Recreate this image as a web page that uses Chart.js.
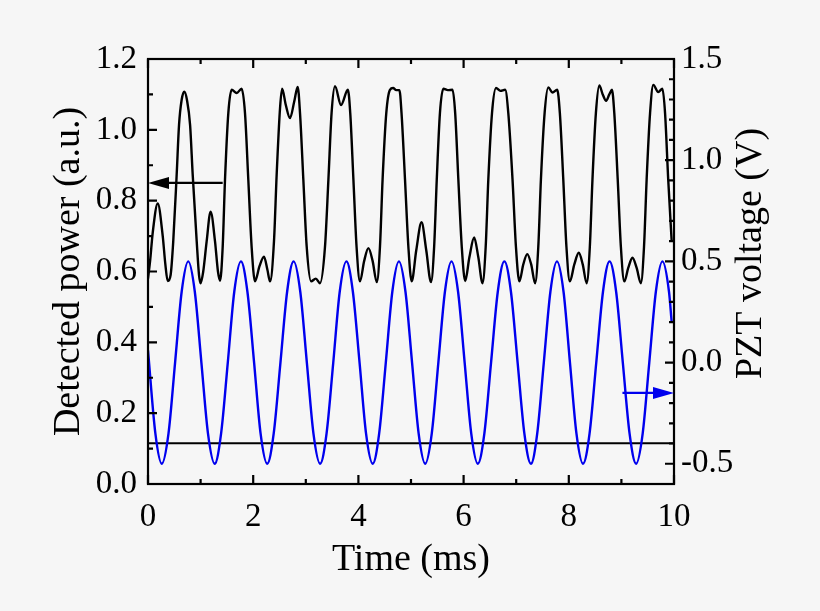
<!DOCTYPE html>
<html>
<head>
<meta charset="utf-8">
<script src="https://cdn.jsdelivr.net/npm/chart.js@4.4.1/dist/chart.umd.min.js"></script>
<style>
  html, body { margin: 0; padding: 0; background: #f6f6f6; }
  #wrap { width: 820px; height: 611px; }
</style>
</head>
<body>
<div id="wrap"><canvas id="chart" width="820" height="611"></canvas></div>
<script>
// detected power (left axis)
const timePower = [
  0.00, 0.04, 0.09, 0.185, 0.28, 0.33, 0.375, 0.43, 0.48, 0.545, 0.59, 0.64, 0.69, 0.74, 0.80, 0.85, 0.926, 0.97,
  1.00, 1.05, 1.115, 1.19, 1.274, 1.33, 1.37, 1.42, 1.464, 1.527, 1.59, 1.686, 1.78, 1.844, 1.907, 1.97,
  2.034, 2.12, 2.205, 2.27, 2.32, 2.395, 2.446, 2.51, 2.55, 2.62, 2.70, 2.78, 2.846, 2.89, 2.953, 3.017,
  3.10, 3.19, 3.27, 3.365, 3.43, 3.49, 3.555, 3.67, 3.80, 3.845, 3.905, 3.965,
  4.03, 4.11, 4.19, 4.27, 4.35, 4.41, 4.46, 4.53, 4.60, 4.66, 4.72, 4.78, 4.82, 4.886, 4.95,
  5.013, 5.10, 5.20, 5.29, 5.38, 5.44, 5.49, 5.55, 5.615, 5.70, 5.79, 5.84, 5.90, 5.965,
  6.03, 6.11, 6.20, 6.28, 6.36, 6.42, 6.47, 6.54, 6.616, 6.70, 6.79, 6.85, 6.93, 6.995,
  7.06, 7.135, 7.21, 7.285, 7.36, 7.42, 7.47, 7.54, 7.61, 7.69, 7.78, 7.83, 7.895, 7.955,
  8.02, 8.105, 8.19, 8.265, 8.34, 8.40, 8.45, 8.515, 8.58, 8.645, 8.71, 8.77, 8.82, 8.865, 8.93, 8.99,
  9.055, 9.13, 9.21, 9.29, 9.37, 9.43, 9.48, 9.545, 9.607, 9.70, 9.78, 9.83, 9.89, 9.956
];
const power = [
  0.58, 0.63, 0.71, 0.792, 0.70, 0.62, 0.573, 0.59, 0.685, 0.873, 1.014, 1.085, 1.108, 1.085, 1.014, 0.873, 0.685, 0.59,
  0.567, 0.60, 0.685, 0.769, 0.685, 0.60, 0.574, 0.67, 0.859, 1.047, 1.113, 1.104, 1.116, 1.047, 0.859, 0.67,
  0.572, 0.615, 0.642, 0.605, 0.572, 0.685, 0.873, 1.061, 1.116, 1.07, 1.033, 1.08, 1.121, 1.047, 0.86, 0.67,
  0.572, 0.58, 0.567, 0.67, 0.86, 1.047, 1.123, 1.07, 1.113, 1.047, 0.86, 0.67,
  0.572, 0.63, 0.666, 0.63, 0.570, 0.67, 0.86, 1.047, 1.113, 1.118, 1.112, 1.112, 1.047, 0.86, 0.67,
  0.572, 0.66, 0.739, 0.66, 0.570, 0.67, 0.86, 1.047, 1.116, 1.112, 1.113, 1.047, 0.86, 0.67,
  0.573, 0.64, 0.696, 0.64, 0.567, 0.67, 0.86, 1.047, 1.118, 1.11, 1.113, 1.047, 0.86, 0.67,
  0.572, 0.62, 0.649, 0.62, 0.567, 0.67, 0.86, 1.047, 1.12, 1.105, 1.113, 1.047, 0.86, 0.67,
  0.572, 0.62, 0.653, 0.62, 0.567, 0.67, 0.86, 1.047, 1.125, 1.10, 1.082, 1.10, 1.113, 1.047, 0.86, 0.67,
  0.572, 0.61, 0.639, 0.61, 0.567, 0.67, 0.86, 1.047, 1.127, 1.107, 1.116, 1.047, 0.86, 0.685
];

// PZT voltage (right axis)
const timePzt = [
  0, 0.14, 0.262, 0.39, 0.515, 0.64, 0.765, 0.89, 1.015, 1.14,
  1.268, 1.39, 1.517, 1.64, 1.767, 1.89, 2.017, 2.14,
  2.266, 2.39, 2.518, 2.645, 2.769, 2.895, 3.02, 3.145,
  3.272, 3.395, 3.522, 3.645, 3.772, 3.895, 4.022, 4.145,
  4.272, 4.395, 4.521, 4.645, 4.771, 4.895, 5.02, 5.145,
  5.27, 5.395, 5.52, 5.645, 5.77, 5.895, 6.02, 6.145,
  6.27, 6.395, 6.522, 6.65, 6.775, 6.9, 7.027, 7.155,
  7.28, 7.4, 7.525, 7.65, 7.775, 7.9, 8.022, 8.145,
  8.27, 8.395, 8.522, 8.65, 8.775, 8.9, 9.027, 9.155,
  9.28, 9.405, 9.53, 9.655, 9.78, 9.905, 9.956
];
const pzt = [
  0.06, -0.35, -0.5, -0.35, 0, 0.35, 0.5, 0.35, 0, -0.35,
  -0.5, -0.35, 0, 0.35, 0.5, 0.35, 0, -0.35,
  -0.5, -0.35, 0, 0.35, 0.5, 0.35, 0, -0.35,
  -0.5, -0.35, 0, 0.35, 0.5, 0.35, 0, -0.35,
  -0.5, -0.35, 0, 0.35, 0.5, 0.35, 0, -0.35,
  -0.5, -0.35, 0, 0.35, 0.5, 0.35, 0, -0.35,
  -0.5, -0.35, 0, 0.35, 0.5, 0.35, 0, -0.35,
  -0.5, -0.35, 0, 0.35, 0.5, 0.35, 0, -0.35,
  -0.5, -0.35, 0, 0.35, 0.5, 0.35, 0, -0.35,
  -0.5, -0.35, 0, 0.35, 0.5, 0.35, 0.2
];

// flat reference level
const levelTime = [0, 10];
const levelPower = [0.115, 0.115];

// arrows: [from, to] in time, and level on their own axis
const arrowPowerTime = [1.42, 0];
const arrowPowerLevel = 0.85;
const arrowPztTime = [9.02, 10];
const arrowPztLevel = -0.15;

// ticks
const timeTicks = [0, 2, 4, 6, 8, 10];
const timeMinor = [1, 3, 5, 7, 9];
const powerTicks = [0, 0.2, 0.4, 0.6, 0.8, 1.0, 1.2];
const powerMinor = [0.1, 0.3, 0.5, 0.7, 0.9, 1.1];
const pztTicks = [-0.5, 0, 0.5, 1.0, 1.5];
const pztMinor = [-0.4, -0.3, -0.2, -0.1, 0.1, 0.2, 0.3, 0.4, 0.6, 0.7, 0.8, 0.9, 1.1, 1.2, 1.3, 1.4];

const serif = "'Liberation Serif', 'DejaVu Serif', serif";

function pts(xs, ys) {
  return xs.map((x, i) => ({ x: x, y: ys[i] }));
}

function setTicks(values) {
  return (scale) => { scale.ticks = values.map((v) => ({ value: v })); };
}

function drawArrow(ctx, x1, x2, y, color) {
  const dir = x2 > x1 ? 1 : -1;
  const head = 21;
  ctx.save();
  ctx.strokeStyle = color;
  ctx.fillStyle = color;
  ctx.lineWidth = 2.2;
  ctx.beginPath();
  ctx.moveTo(x1, y);
  ctx.lineTo(x2 - dir * head * 0.6, y);
  ctx.stroke();
  ctx.beginPath();
  ctx.moveTo(x2, y);
  ctx.lineTo(x2 - dir * head, y - 6);
  ctx.lineTo(x2 - dir * head, y + 6);
  ctx.closePath();
  ctx.fill();
  ctx.restore();
}

const framePlugin = {
  id: "frame",
  beforeDraw(chart) {
    const { ctx, width, height } = chart;
    ctx.save();
    ctx.fillStyle = "#f6f6f6";
    ctx.fillRect(0, 0, width, height);
    ctx.restore();
  },
  afterDraw(chart) {
    const { ctx, chartArea: a, scales } = chart;
    ctx.save();
    ctx.strokeStyle = "#000";
    ctx.lineWidth = 2.2;
    ctx.strokeRect(a.left, a.top, a.right - a.left, a.bottom - a.top);

    const major = 9, minor = 5;
    ctx.beginPath();
    [[timeTicks, major], [timeMinor, minor]].forEach(([vals, len]) => {
      vals.forEach((v) => {
        const px = scales.x.getPixelForValue(v);
        ctx.moveTo(px, a.bottom); ctx.lineTo(px, a.bottom - len);
        ctx.moveTo(px, a.top); ctx.lineTo(px, a.top + len);
      });
    });
    [[powerTicks, major], [powerMinor, minor]].forEach(([vals, len]) => {
      vals.forEach((v) => {
        const py = scales.y.getPixelForValue(v);
        ctx.moveTo(a.left, py); ctx.lineTo(a.left + len, py);
      });
    });
    [[pztTicks, major], [pztMinor, minor]].forEach(([vals, len]) => {
      vals.forEach((v) => {
        const py = scales.y1.getPixelForValue(v);
        ctx.moveTo(a.right, py); ctx.lineTo(a.right - len, py);
      });
    });
    ctx.stroke();

    // arrows pointing at the axis each curve belongs to
    drawArrow(ctx, scales.x.getPixelForValue(arrowPowerTime[0]), scales.x.getPixelForValue(arrowPowerTime[1]),
      scales.y.getPixelForValue(arrowPowerLevel), "#000");
    drawArrow(ctx, scales.x.getPixelForValue(arrowPztTime[0]), scales.x.getPixelForValue(arrowPztTime[1]),
      scales.y1.getPixelForValue(arrowPztLevel), "#0000ee");

    // right axis title reads bottom to top
    ctx.translate(a.right + 77, (a.top + a.bottom) / 2 - 18);
    ctx.rotate(-Math.PI / 2);
    ctx.fillStyle = "#000";
    ctx.font = "38px " + serif;
    ctx.textAlign = "center";
    ctx.textBaseline = "middle";
    ctx.fillText("PZT voltage (V)", 0, 0);
    ctx.restore();
  },
};

new Chart(document.getElementById("chart"), {
  type: "line",
  data: {
    datasets: [
      {
        data: pts(timePower, power),
        borderColor: "#000",
        borderWidth: 2.4,
        pointRadius: 0,
        cubicInterpolationMode: "monotone",
        yAxisID: "y",
      },
      {
        data: pts(timePzt, pzt),
        borderColor: "#0000ee",
        borderWidth: 2.4,
        pointRadius: 0,
        cubicInterpolationMode: "monotone",
        yAxisID: "y1",
      },
      {
        data: pts(levelTime, levelPower),
        borderColor: "#000",
        borderWidth: 2,
        pointRadius: 0,
        yAxisID: "y",
      },
    ],
  },
  options: {
    responsive: false,
    animation: false,
    devicePixelRatio: 1,
    layout: { padding: { top: 59, left: 0, right: 0, bottom: 0 } },
    plugins: { legend: { display: false }, tooltip: { enabled: false } },
    scales: {
      x: {
        type: "linear",
        min: 0,
        max: 10,
        afterBuildTicks: setTicks(timeTicks),
        afterFit: (s) => { s.height = 127; },
        grid: { display: false, drawTicks: false, tickLength: 0 },
        border: { display: false },
        ticks: { color: "#000", padding: 14, font: { family: serif, size: 33 }, callback: (v) => String(v) },
        title: { display: true, text: "Time (ms)", color: "#000", font: { family: serif, size: 38 }, padding: { top: 0, bottom: 28 } },
      },
      y: {
        position: "left",
        min: 0,
        max: 1.2,
        afterBuildTicks: setTicks(powerTicks),
        afterFit: (s) => { s.width = 148; },
        grid: { display: false, drawTicks: false, tickLength: 0 },
        border: { display: false },
        ticks: { color: "#000", padding: 11, font: { family: serif, size: 33 }, callback: (v) => v.toFixed(1) },
        title: { display: true, text: "Detected power (a.u.)", color: "#000", font: { family: serif, size: 38 }, padding: { top: 46, bottom: 0 } },
      },
      y1: {
        position: "right",
        min: -0.6,
        max: 1.5,
        afterBuildTicks: setTicks(pztTicks),
        afterFit: (s) => { s.width = 146; },
        grid: { display: false, drawTicks: false, tickLength: 0 },
        border: { display: false },
        ticks: { color: "#000", padding: 7, font: { family: serif, size: 33 }, callback: (v) => v.toFixed(1) },
      },
    },
  },
  plugins: [framePlugin],
});
</script>
</body>
</html>
